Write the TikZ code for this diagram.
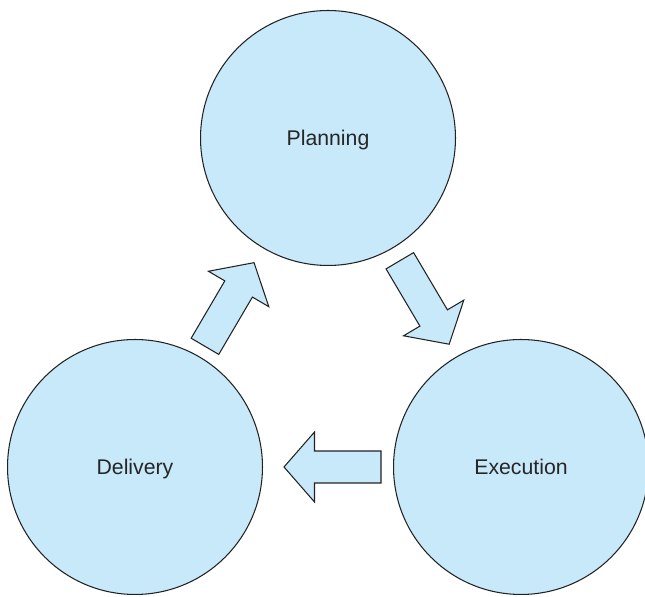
\documentclass[tikz,border=0pt]{standalone}
\usepackage{fontspec}
\setmainfont{Liberation Sans}
\usepackage{tikz}
\usetikzlibrary{positioning,calc}
\usepackage{xcolor}
\definecolor{phaseblue}{HTML}{C8E9F9}
\definecolor{phaseline}{HTML}{222222}
\definecolor{phasetext}{HTML}{262626}
\tikzset{
  phase/.style={
    circle,
    draw=phaseline,
    fill=phaseblue,
    line width=0.6pt,
    minimum size=5.1cm,
    inner sep=0pt,
    text depth=0pt,
    text=phasetext,
    font=\fontsize{12.1}{14}\selectfont
  },
  arrowline/.style={
    draw=phaseline,
    fill=phaseblue,
    line width=0.6pt,
    line join=miter
  },
  blockarrow/.pic={
    \draw[arrowline] (-48.5,-16) -- (18,-16) -- (18,-35) -- (48.5,0)
      -- (18,35) -- (18,16) -- (-48.5,16) -- cycle;
  }
}

\begin{document}
\begin{tikzpicture}[x=0.02cm,y=0.02cm]
\useasboundingbox (0,0) rectangle (645,597);
\node[phase] (plan) at (328,459) {Planning};
\node[phase] (del) at (135,130) {Delivery};
\node[phase] (exec) at (521,130) {Execution};
% arrows between the phases
\pic[rotate=59.6] at ($(del)!0.5!(plan)+(-2,-2)$) {blockarrow};
\pic[rotate=-59.4] at ($(plan)!0.5!(exec)$) {blockarrow};
\pic[rotate=180] at ($(exec)!0.5!(del)+(4.5,0)$) {blockarrow};
\end{tikzpicture}
\end{document}
